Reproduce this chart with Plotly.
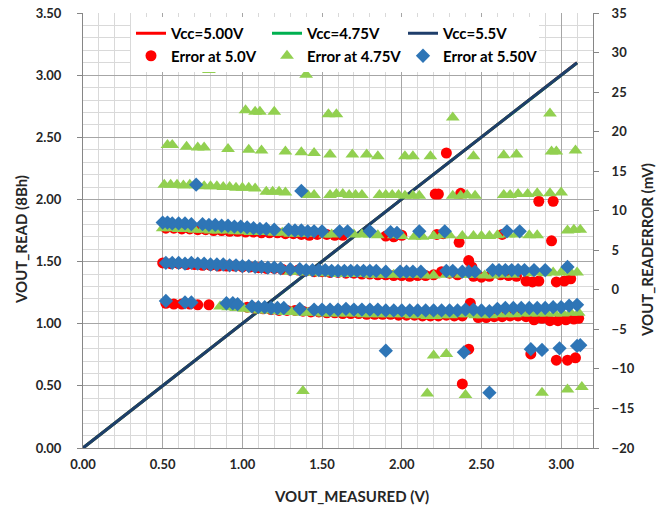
import plotly.graph_objects as go

# ---------------- data ----------------
vout_meas = [0.0, 0.5, 1.0, 1.5, 2.0, 2.5, 3.0, 3.1]
read_500 = [0.0, 0.503, 1.003, 1.502, 2.002, 2.502, 3.002, 3.100]
read_475 = [0.0, 0.502, 1.003, 1.502, 2.002, 2.501, 3.001, 3.099]
read_550 = [0.0, 0.503, 1.003, 1.502, 2.002, 2.502, 3.002, 3.100]

# Error at 5.0V (mV)
e50_low_x = [0.52,0.57,0.62,0.67,0.72,0.79,1.03,1.08,1.13,1.18,1.23,1.28,1.33,1.38,1.43,1.48,1.53,1.58,1.63,1.68,
             1.73,1.78,1.83,1.88,1.93,1.98,2.03,2.08,2.13,2.18,2.23,2.28,2.33,2.38,2.48,2.53,2.58,2.63,2.68,2.73,
             2.78,2.83,2.88,2.93,2.98,3.03,3.08,3.11]
e50_low_y = [-1.7,-1.8,-1.8,-1.8,-1.9,-1.9,-2.2,-2.3,-2.4,-2.5,-2.6,-2.6,-2.6,-2.7,-2.8,-2.8,-2.9,-2.9,-3.0,-3.0,
             -3.0,-3.1,-3.1,-3.1,-3.1,-3.2,-3.2,-3.2,-3.3,-3.3,-3.3,-3.2,-3.3,-3.3,-3.5,-3.5,-3.4,-3.4,-3.3,-3.3,
             -3.4,-3.8,-3.6,-3.9,-3.9,-3.8,-3.7,-3.6]
e50_mid_x = [0.50,0.55,0.60,0.65,0.70,0.75,0.80,0.85,0.90,0.95,1.00,1.05,1.10,1.15,1.20,1.25,1.30,1.35,1.40,1.45,
             1.50,1.55,1.60,1.65,1.70,1.75,1.80,1.85,1.90,1.95,2.00,2.05,2.10,2.15,2.20,2.25,2.30,2.35,
             2.45,2.50,2.55,2.62,2.67,2.72,2.78,2.82,2.86,2.97,3.02,3.06]
e50_mid_y = [3.4,3.3,3.3,3.2,3.2,3.1,3.1,3.0,3.0,3.0,2.9,2.9,2.8,2.7,2.7,2.6,2.5,2.5,2.4,2.3,
             2.3,2.2,2.2,2.1,2.1,2.0,2.0,1.9,1.9,1.8,1.8,1.7,1.8,1.8,1.9,2.3,2.1,1.9,
             1.7,1.6,1.7,1.9,1.8,1.7,1.1,1.0,1.1,1.0,1.1,1.4]
e50_up_x = [0.52,0.57,0.62,0.67,0.72,0.77,0.82,0.87,0.92,0.97,1.02,1.07,1.12,1.17,1.22,1.27,1.32,1.37,1.42,1.47,
            1.53,1.58,1.63,1.90,1.95,2.00,2.22,2.26,2.36,2.63,2.94]
e50_up_y = [7.8,7.8,7.7,7.7,7.6,7.6,7.5,7.5,7.4,7.4,7.3,7.3,7.2,7.2,7.2,7.1,7.1,7.0,6.9,7.0,
            7.0,6.9,6.9,6.8,6.7,6.9,7.0,7.1,6.0,7.0,6.2]
e50_out_x = [2.21,2.23,2.37,2.28,2.86,2.95,2.42,2.44,2.43,2.38,2.42,2.81,2.97,3.04,3.09]
e50_out_y = [12.1,12.1,12.2,17.3,11.2,11.2,3.7,2.9,-1.7,-11.9,-7.5,-8.1,-8.9,-8.9,-8.6]

# Error at 4.75V (mV)
e475_low_x = [0.86,0.91,0.96,1.01,1.06,1.11,1.16,1.21,1.26,1.31,1.36,1.41,1.46,1.51,1.56,1.61,1.66,1.71,1.76,1.81,
              1.86,1.91,1.96,2.01,2.06,2.11,2.16,2.21,2.26,2.31,2.36,2.41,2.46,2.51,2.56,2.61,2.66,2.71,2.76,2.81,
              2.86,2.91,2.96,3.01,3.06,3.11]
e475_low_y = [-2.1,-2.2,-2.3,-2.4,-2.5,-2.6,-2.6,-2.7,-2.8,-2.8,-2.9,-2.9,-2.9,-3.0,-3.0,-3.0,-3.0,-3.0,-3.1,-3.1,
              -3.1,-3.1,-3.1,-3.1,-3.2,-3.2,-3.3,-3.3,-3.2,-3.2,-3.1,-3.1,-3.2,-3.2,-3.2,-3.1,-3.1,-3.1,-3.0,-3.0,
              -3.0,-3.0,-3.0,-3.0,-2.9,-2.9]
e475_mid_x = [1.30,1.34,1.40,1.45,1.50,1.55,1.60,1.65,1.70,1.75,1.80,1.85,1.90,1.95,2.00,2.05,2.10,2.15,2.20,2.28,
              2.37,2.42,2.47,2.52,2.57,2.63,2.70,2.80,2.85,2.90,2.95,3.00,3.06,3.10]
e475_mid_y = [2.3,2.3,2.2,2.2,2.1,2.1,2.0,2.0,2.0,2.0,1.9,1.9,1.9,1.9,1.9,1.9,1.9,1.8,1.8,1.9,
              1.9,1.9,1.9,1.8,1.8,1.9,1.9,2.1,2.2,2.1,2.2,2.2,2.2,2.2]
e475_up_x = [0.50,0.55,0.60,0.65,0.70,0.75,0.80,0.85,0.90,0.95,1.00,1.05,1.10,1.15,1.20,1.25,1.30,1.35,1.40,
             1.52,1.56,1.70,1.75,1.80,1.85,1.95,2.00,2.08,2.13,2.20,2.25,2.30,2.38,2.45,2.50,2.55,2.60,2.67,2.72,
             2.80,2.85,3.04,3.08,3.12]
e475_up_y = [7.8,7.8,7.7,7.7,7.6,7.6,7.5,7.5,7.5,7.4,7.4,7.3,7.3,7.3,7.2,7.2,7.1,7.1,7.1,
             7.0,7.0,7.0,7.0,7.0,6.9,6.9,6.8,6.7,6.7,6.8,6.9,6.9,6.8,6.8,6.8,6.8,6.9,7.0,7.0,
             6.9,6.9,7.5,7.6,7.6]
e475_12_x = [0.51,0.55,0.59,0.63,0.67,0.71,0.76,0.80,0.84,0.88,0.92,0.96,1.00,1.04,1.08,1.15,1.19,1.23,1.27,
             1.41,1.45,1.55,1.59,1.63,1.67,1.71,1.75,1.86,1.90,1.94,1.98,2.02,2.07,2.11,2.32,2.37,2.41,2.46,
             2.64,2.68,2.73,2.79,2.85,2.93,3.00]
e475_12_y = [13.3,13.3,13.3,13.2,13.3,13.2,13.1,13.1,13.1,13.0,13.0,12.9,12.9,12.9,12.8,12.4,12.4,12.4,12.3,
             12.0,12.0,12.0,12.1,12.1,12.0,12.0,12.0,12.0,12.0,12.0,12.0,11.9,11.9,11.9,11.9,11.9,12.0,11.9,
             12.0,12.0,12.1,12.1,12.2,12.2,12.3]
e475_17_x = [0.53,0.56,0.65,0.72,0.76,0.91,1.04,1.12,1.27,1.37,1.45,1.55,1.69,1.78,1.85,2.02,2.07,2.18,2.45,2.64,
             2.72,2.94,2.97,3.09]
e475_17_y = [18.3,18.3,18.1,18.0,18.0,17.8,17.7,17.6,17.5,17.4,17.3,17.1,17.1,17.1,16.9,16.9,16.9,16.9,16.9,17.0,
             17.1,17.5,17.5,17.6]
e475_out_x = [1.02,1.08,1.11,1.20,1.54,1.59,2.32,2.93,0.79,1.40,1.38,2.16,2.20,2.28,2.40,2.88,3.04,3.13]
e475_out_y = [22.7,22.5,22.5,22.5,22.2,22.2,21.8,22.3,27.8,27.2,-12.8,-13.1,-8.3,-8.1,-13.3,-13.0,-12.6,-12.3]

# Error at 5.50V (mV)
e550_low_x = [0.52,0.64,0.68,0.90,0.94,0.97,1.06,1.10,1.14,1.18,1.22,1.26,1.36,
              1.45,1.50,1.55,1.60,1.65,1.70,1.75,1.80,1.85,1.90,1.95,2.00,2.05,2.10,2.15,2.20,2.25,2.30,2.35,2.40,
              2.45,2.50,2.55,2.60,2.65,2.70,2.75,2.80,2.85,2.90,2.95,3.00,3.05,3.10]
e550_low_y = [-1.4,-1.6,-1.6,-1.7,-1.7,-1.8,-2.1,-2.2,-2.2,-2.3,-2.3,-2.3,-2.4,
              -2.5,-2.5,-2.5,-2.5,-2.4,-2.5,-2.5,-2.5,-2.5,-2.6,-2.6,-2.6,-2.6,-2.6,-2.6,-2.6,-2.6,-2.6,-2.6,-2.5,
              -2.5,-2.6,-2.7,-2.4,-2.3,-2.3,-2.3,-2.3,-2.3,-2.3,-2.2,-2.2,-2.0,-1.9]
e550_mid_x = [0.52,0.56,0.60,0.64,0.68,0.72,0.76,0.80,0.84,0.88,0.92,0.96,1.00,1.04,1.08,1.12,1.16,1.20,1.24,
              1.30,1.36,1.40,1.44,1.48,1.52,1.56,1.60,1.64,1.68,1.72,1.76,1.80,1.84,1.90,1.99,2.03,2.07,2.12,
              2.28,2.32,2.38,2.42,2.46,2.57,2.61,2.65,2.69,2.73,2.77,2.83,2.90,3.04]
e550_mid_y = [3.4,3.4,3.4,3.3,3.4,3.3,3.3,3.2,3.2,3.2,3.1,3.1,3.0,3.0,2.9,2.9,2.8,2.8,2.7,
              2.6,2.6,2.5,2.5,2.5,2.5,2.4,2.4,2.4,2.4,2.4,2.4,2.4,2.4,2.3,2.3,2.3,2.3,2.3,
              2.4,2.4,2.3,2.3,2.3,2.5,2.5,2.5,2.5,2.5,2.5,2.5,2.5,2.9]
e550_up_x = [0.50,0.53,0.56,0.60,0.64,0.68,0.75,0.79,0.83,0.87,0.91,0.95,0.99,1.03,1.07,1.11,1.15,1.20,
             1.29,1.33,1.37,1.41,1.45,1.50,1.61,1.66,1.80,1.93,1.97,2.11,2.27,2.66,2.74]
e550_up_y = [8.5,8.5,8.4,8.4,8.4,8.3,8.3,8.2,8.2,8.1,8.1,8.0,8.0,7.9,7.8,7.7,7.7,7.6,
             7.6,7.5,7.5,7.4,7.4,7.4,7.4,7.4,7.4,7.3,7.2,7.4,7.4,7.4,7.4]
e550_out_x = [0.71,1.37,1.90,2.39,2.55,2.81,2.88,2.99,3.10,3.12]
e550_out_y = [13.3,12.5,-7.7,-7.9,-13.0,-7.5,-7.6,-7.4,-7.1,-7.0]

x_ticks = [0.0, 0.5, 1.0, 1.5, 2.0, 2.5, 3.0]
y_ticks = [0.0, 0.5, 1.0, 1.5, 2.0, 2.5, 3.0, 3.5]
y2_ticks = [-20, -15, -10, -5, 0, 5, 10, 15, 20, 25, 30, 35]

# ---------------- figure ----------------
FONT = "Lato"
TXT = "#262626"
W, H = 665, 510
ML, MR, MT, MB = 83, 72, 13, 62
PL, PR, PT, PB = ML, W - MR, MT, H - MB


def px_to_paper(sx, sy):
    return (sx - PL) / (PR - PL), (PB - sy) / (PB - PT)


fig = go.Figure()
fig.add_trace(go.Scatter(x=vout_meas, y=read_500, mode="lines", name="Vcc=5.00V",
                         line=dict(color="#FF0000", width=3)))
fig.add_trace(go.Scatter(x=vout_meas, y=read_475, mode="lines", name="Vcc=4.75V",
                         line=dict(color="#00B050", width=3)))
fig.add_trace(go.Scatter(x=vout_meas, y=read_550, mode="lines", name="Vcc=5.5V",
                         line=dict(color="#1F3E6B", width=3)))

fig.add_trace(go.Scatter(x=e50_low_x + e50_mid_x + e50_up_x + e50_out_x,
                         y=e50_low_y + e50_mid_y + e50_up_y + e50_out_y,
                         mode="markers", name="Error at 5.0V", yaxis="y2",
                         marker=dict(symbol="circle", size=11, color="#FF0000")))
fig.add_trace(go.Scatter(x=e475_low_x + e475_mid_x + e475_up_x + e475_12_x + e475_17_x + e475_out_x,
                         y=e475_low_y + e475_mid_y + e475_up_y + e475_12_y + e475_17_y + e475_out_y,
                         mode="markers", name="Error at 4.75V", yaxis="y2",
                         marker=dict(symbol="triangle-up", size=12, color="#92D050")))
fig.add_trace(go.Scatter(x=e550_low_x + e550_mid_x + e550_up_x + e550_out_x,
                         y=e550_low_y + e550_mid_y + e550_up_y + e550_out_y,
                         mode="markers", name="Error at 5.50V", yaxis="y2",
                         marker=dict(symbol="diamond", size=11, color="#2E75B6")))

tickfont = dict(family=FONT, size=13, color=TXT, weight="bold")
titlefont = dict(family=FONT, size=15, color=TXT, weight="bold")
MAJ = "#A6A6A6"
MIN = "#D9D9D9"

lx, ly = px_to_paper(131, 17)
ax_x, ax_y = px_to_paper(351, 496)
ay_x, ay_y = px_to_paper(21, 240)
ar_x, ar_y = px_to_paper(647, 250)

fig.update_layout(
    width=W, height=H,
    margin=dict(l=ML, r=MR, t=MT, b=MB, pad=0),
    paper_bgcolor="white", plot_bgcolor="white",
    showlegend=True,
    legend=dict(orientation="h", x=lx, y=ly, xanchor="left", yanchor="top",
                bgcolor="white", borderwidth=0,
                font=dict(family=FONT, size=15, color="#000000", weight="bold"),
                entrywidth=91, entrywidthmode="pixels", traceorder="normal",
                itemsizing="trace"),
    xaxis=dict(range=[0, 3.2], tickvals=x_ticks, tickformat=".2f", automargin=False,
               showgrid=True, gridcolor=MAJ, gridwidth=1,
               minor=dict(dtick=0.1, showgrid=True, gridcolor=MIN, gridwidth=1, ticks=""),
               showline=True, linecolor="#868686", linewidth=1,
               ticks="", tickfont=tickfont, ticklabelstandoff=4, zeroline=False,
               ticklabeloverflow="allow"),
    yaxis=dict(range=[0, 3.5], tickvals=y_ticks, tickformat=".2f", automargin=False,
               showgrid=True, gridcolor=MAJ, gridwidth=1,
               minor=dict(dtick=0.1, showgrid=True, gridcolor=MIN, gridwidth=1, ticks=""),
               showline=True, linecolor="#868686", linewidth=1,
               ticks="outside", ticklen=5, tickcolor="#868686",
               tickfont=tickfont, ticklabelstandoff=13, zeroline=False,
               ticklabeloverflow="allow"),
    yaxis2=dict(range=[-20, 35], tickvals=y2_ticks, overlaying="y", side="right", anchor="x",
                automargin=False, showgrid=False, zeroline=False,
                showline=True, linecolor="#868686", linewidth=1,
                ticks="outside", ticklen=5, tickcolor="#868686",
                tickfont=tickfont, ticklabelstandoff=10, ticklabeloverflow="allow"),
    annotations=[
        dict(text="VOUT_MEASURED (V)", x=ax_x, y=ax_y, xref="paper", yref="paper",
             xanchor="center", yanchor="middle", showarrow=False, font=titlefont),
        dict(text="VOUT_READ (8Bh)", x=ay_x, y=ay_y, xref="paper", yref="paper",
             xanchor="center", yanchor="middle", textangle=-90, showarrow=False, font=titlefont),
        dict(text="VOUT_READERROR (mV)", x=ar_x, y=ar_y, xref="paper", yref="paper",
             xanchor="center", yanchor="middle", textangle=-90, showarrow=False, font=titlefont),
    ],
)

# remove the default 8px page margin so the 665x510 figure fills the window exactly
fig.write_html("out.html",
               config={"displayModeBar": False},
               post_script="document.body.style.margin='0';document.body.style.overflow='hidden';")
